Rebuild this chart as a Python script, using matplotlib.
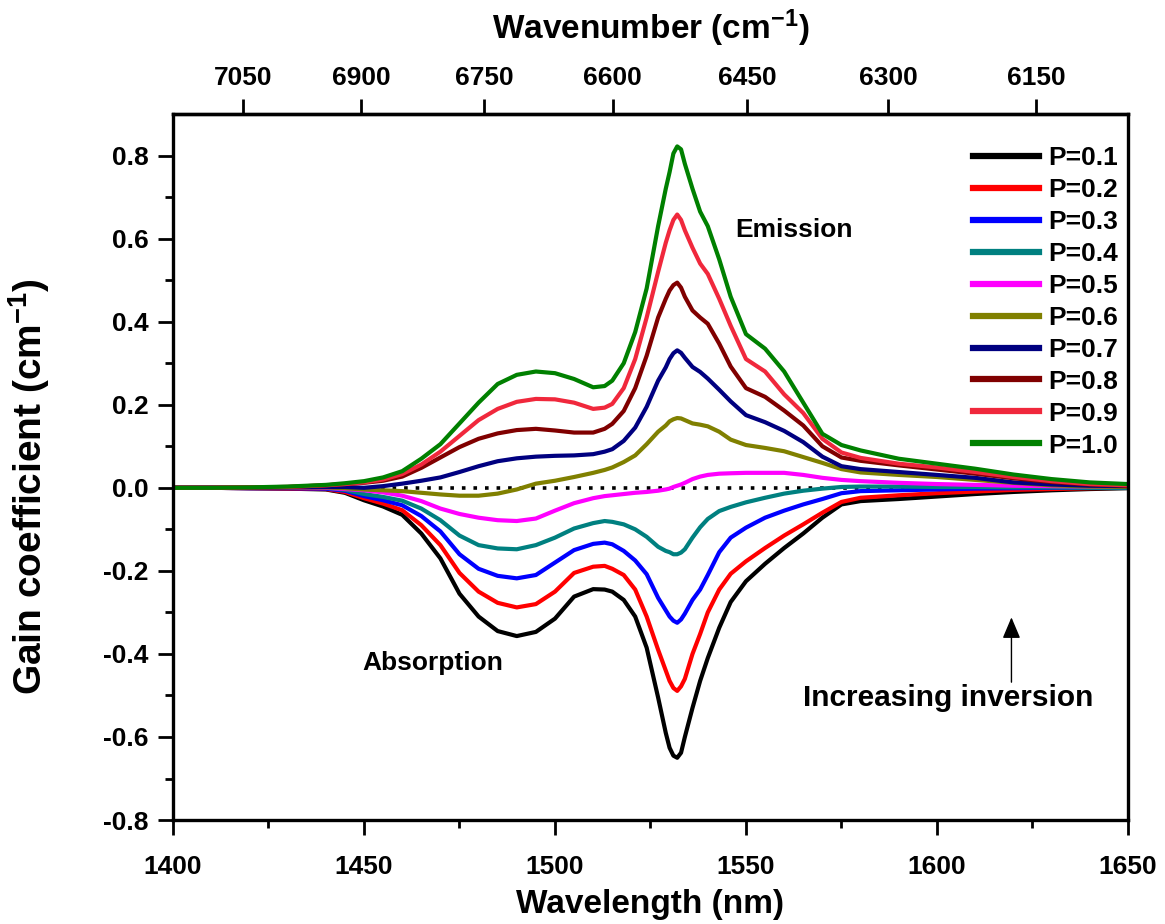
import matplotlib
matplotlib.use("Agg")
import matplotlib.pyplot as plt
from matplotlib.ticker import MultipleLocator, FixedLocator

plt.rcParams['font.family'] = ['Liberation Sans', 'DejaVu Sans']
plt.rcParams['font.weight'] = 'bold'
plt.rcParams['mathtext.fontset'] = 'custom'
plt.rcParams['mathtext.rm'] = 'Liberation Sans:bold'
plt.rcParams['mathtext.bf'] = 'Liberation Sans:bold'
plt.rcParams['mathtext.it'] = 'Liberation Sans:bold'
plt.rcParams['mathtext.default'] = 'bf'

# ---------------- data ----------------
wavelength = [1400, 1410, 1420, 1430, 1440, 1445, 1450, 1455, 1460, 1465,
              1470, 1475, 1480, 1485, 1490, 1495, 1500, 1505, 1510, 1513,
              1515, 1518, 1521, 1524, 1527, 1529, 1530, 1531, 1532, 1533,
              1534, 1536, 1538, 1540, 1543, 1546, 1550, 1555, 1560, 1565,
              1570, 1575, 1580, 1590, 1600, 1610, 1620, 1630, 1640, 1650]

p01 = [0, 0, -0.001, -0.002, -0.004, -0.012, -0.03, -0.045, -0.065, -0.11,
       -0.17, -0.255, -0.31, -0.345, -0.357, -0.347, -0.315, -0.262, -0.244, -0.245,
       -0.25, -0.27, -0.31, -0.385, -0.505, -0.59, -0.626, -0.645, -0.65, -0.638,
       -0.6, -0.53, -0.465, -0.41, -0.337, -0.275, -0.225, -0.183, -0.145, -0.11,
       -0.072, -0.04, -0.032, -0.027, -0.021, -0.015, -0.01, -0.006, -0.003, -0.001]
p02 = [0, 0, -0.001, -0.002, -0.003, -0.01, -0.025, -0.038, -0.054, -0.09,
       -0.138, -0.205, -0.25, -0.277, -0.288, -0.28, -0.25, -0.205, -0.19, -0.188,
       -0.195, -0.21, -0.245, -0.31, -0.39, -0.44, -0.465, -0.482, -0.489, -0.478,
       -0.46, -0.4, -0.352, -0.3, -0.245, -0.207, -0.177, -0.145, -0.115, -0.088,
       -0.06, -0.034, -0.024, -0.018, -0.013, -0.009, -0.005, -0.003, -0.001, 0.0]
p03 = [0, 0, -0.001, -0.001, -0.002, -0.007, -0.02, -0.03, -0.042, -0.068,
       -0.105, -0.16, -0.195, -0.212, -0.218, -0.21, -0.18, -0.15, -0.135, -0.132,
       -0.136, -0.152, -0.175, -0.208, -0.265, -0.295, -0.31, -0.32, -0.325, -0.317,
       -0.303, -0.27, -0.245, -0.21, -0.155, -0.12, -0.096, -0.072, -0.055, -0.04,
       -0.027, -0.013, -0.008, -0.006, -0.004, -0.002, -0.001, 0.0, 0.0, 0.0]
p04 = [0, 0, 0, 0, 0, -0.005, -0.015, -0.022, -0.031, -0.05,
       -0.078, -0.115, -0.138, -0.146, -0.148, -0.138, -0.12, -0.098, -0.085, -0.08,
       -0.082, -0.088, -0.1, -0.118, -0.142, -0.152, -0.155, -0.16, -0.16, -0.156,
       -0.148, -0.12, -0.095, -0.075, -0.056, -0.046, -0.035, -0.024, -0.014, -0.007,
       -0.002, 0.002, 0.003, 0.003, 0.002, 0.002, 0.001, 0.001, 0.0, 0.0]
p05 = [0, 0, 0, 0, 0, -0.003, -0.006, -0.011, -0.019, -0.032,
       -0.05, -0.063, -0.072, -0.078, -0.08, -0.074, -0.055, -0.037, -0.025, -0.02,
       -0.018, -0.015, -0.012, -0.01, -0.007, -0.004, -0.002, 0.002, 0.005, 0.008,
       0.012, 0.021, 0.027, 0.031, 0.034, 0.035, 0.036, 0.036, 0.036, 0.031,
       0.024, 0.019, 0.016, 0.012, 0.009, 0.007, 0.005, 0.004, 0.003, 0.002]
p06 = [0, 0, 0, 0.001, 0.001, -0.001, -0.004, -0.006, -0.008, -0.012,
       -0.016, -0.019, -0.019, -0.014, -0.004, 0.01, 0.017, 0.026, 0.036, 0.043,
       0.049, 0.062, 0.078, 0.105, 0.135, 0.15, 0.16, 0.165, 0.168, 0.167,
       0.163, 0.155, 0.152, 0.148, 0.135, 0.116, 0.103, 0.096, 0.088, 0.074,
       0.06, 0.045, 0.037, 0.031, 0.026, 0.019, 0.012, 0.006, 0.003, 0.002]
p07 = [0, 0, 0, 0.001, 0.002, 0.002, 0.0, 0.004, 0.01, 0.017,
       0.025, 0.038, 0.052, 0.064, 0.071, 0.075, 0.077, 0.078, 0.081, 0.087,
       0.093, 0.113, 0.145, 0.195, 0.258, 0.29, 0.31, 0.324, 0.331, 0.325,
       0.313, 0.291, 0.279, 0.263, 0.236, 0.208, 0.175, 0.158, 0.137, 0.11,
       0.075, 0.052, 0.045, 0.038, 0.031, 0.024, 0.013, 0.008, 0.005, 0.004]
p08 = [0, 0, 0.001, 0.002, 0.006, 0.009, 0.012, 0.017, 0.027, 0.048,
       0.073, 0.098, 0.118, 0.131, 0.139, 0.142, 0.138, 0.133, 0.133, 0.142,
       0.154, 0.185, 0.24, 0.318, 0.41, 0.455, 0.475, 0.488, 0.494, 0.482,
       0.46, 0.427, 0.41, 0.395, 0.347, 0.292, 0.24, 0.219, 0.186, 0.15,
       0.1, 0.073, 0.065, 0.054, 0.044, 0.034, 0.023, 0.014, 0.008, 0.005]
p09 = [0, 0, 0.001, 0.002, 0.006, 0.009, 0.013, 0.02, 0.033, 0.056,
       0.087, 0.125, 0.163, 0.19, 0.207, 0.214, 0.213, 0.205, 0.19, 0.193,
       0.202, 0.24, 0.31, 0.41, 0.52, 0.59, 0.62, 0.645, 0.658, 0.645,
       0.62, 0.578, 0.54, 0.515, 0.455, 0.39, 0.31, 0.28, 0.225, 0.18,
       0.118, 0.085, 0.072, 0.058, 0.049, 0.038, 0.026, 0.016, 0.009, 0.006]
p10 = [0, 0, 0.001, 0.003, 0.007, 0.011, 0.016, 0.025, 0.04, 0.07,
       0.105, 0.155, 0.205, 0.25, 0.272, 0.28, 0.276, 0.262, 0.242, 0.245,
       0.258, 0.3, 0.375, 0.48, 0.63, 0.72, 0.76, 0.805, 0.822, 0.815,
       0.78, 0.72, 0.665, 0.63, 0.55, 0.46, 0.37, 0.335, 0.28, 0.205,
       0.13, 0.103, 0.09, 0.07, 0.058, 0.046, 0.032, 0.021, 0.013, 0.009]

series = [p01, p02, p03, p04, p05, p06, p07, p08, p09, p10]
labels = ["P=0.1", "P=0.2", "P=0.3", "P=0.4", "P=0.5",
          "P=0.6", "P=0.7", "P=0.8", "P=0.9", "P=1.0"]
colors = ["#000000", "#FF0000", "#0000FF", "#008080", "#FF00FF",
          "#808000", "#000080", "#800000", "#F0283C", "#008000"]

top_ticks = [7050, 6900, 6750, 6600, 6450, 6300, 6150]

# ---------------- figure ----------------
fig = plt.figure(figsize=(11.65, 9.24), dpi=100)
ax = fig.add_axes([0.1485, 0.1125, 0.8197, 0.7641])

ax.plot([1400, 1650], [0, 0], color='black', linestyle=(0, (1, 2.2)),
        linewidth=2.6, zorder=1)
for y, lab, c in zip(series, labels, colors):
    ax.plot(wavelength, y, color=c, linewidth=3.0, label=lab,
            solid_joinstyle='round', zorder=2)

ax.set_xlim(1400, 1650)
ax.set_ylim(-0.8, 0.9)
ax.xaxis.set_major_locator(MultipleLocator(50))
ax.xaxis.set_minor_locator(MultipleLocator(25))
ax.yaxis.set_major_locator(FixedLocator([-0.8, -0.6, -0.4, -0.2, 0.0, 0.2, 0.4, 0.6, 0.8]))
ax.yaxis.set_minor_locator(FixedLocator([-0.7, -0.5, -0.3, -0.1, 0.1, 0.3, 0.5, 0.7]))
ax.yaxis.set_major_formatter(plt.FuncFormatter(lambda v, p: f"{v:.1f}"))

for s in ax.spines.values():
    s.set_linewidth(2.4)

ax.tick_params(axis='both', which='major', direction='out', length=10.5,
               width=2.0, labelsize=19)
ax.tick_params(axis='both', which='minor', direction='out', length=6,
               width=2.0)
ax.tick_params(axis='x', which='major', pad=15)
ax.tick_params(axis='y', which='major', pad=7)
ax.tick_params(top=False, right=False, which='both')

ax.set_xlabel("Wavelength (nm)", fontsize=24, fontweight='bold', labelpad=7)
ax.set_ylabel(r"Gain coefficient (cm$^{-1}$)", fontsize=28, fontweight='bold')
ax.yaxis.set_label_coords(-0.127, 0.472)

# top wavenumber axis
sec = ax.secondary_xaxis('top', functions=(lambda x: 1e7 / x, lambda x: 1e7 / x))
sec.xaxis.set_major_locator(FixedLocator(top_ticks))
sec.xaxis.set_minor_locator(FixedLocator([]))
sec.tick_params(axis='x', which='major', direction='out', length=10.5,
                width=2.0, labelsize=19, pad=7)
sec.spines['top'].set_linewidth(2.4)
sec.set_xlabel(r"Wavenumber (cm$^{-1}$)", fontsize=24, fontweight='bold',
               labelpad=19)

# legend
leg = ax.legend(loc='upper right', frameon=False, fontsize=19,
                handlelength=2.5, handletextpad=0.35, labelspacing=0.3,
                borderaxespad=0.1, bbox_to_anchor=(1.004, 0.973))
for line in leg.get_lines():
    line.set_linewidth(4.5)

# annotations
ax.text(1562.5, 0.62, "Emission", fontsize=19, fontweight='bold',
        ha='center', va='center')
ax.text(1468, -0.422, "Absorption", fontsize=19, fontweight='bold',
        ha='center', va='center')
ax.text(1603, -0.506, "Increasing inversion", fontsize=21.5, fontweight='bold',
        ha='center', va='center')
ax.annotate("", xy=(1619.5, -0.312), xytext=(1619.5, -0.468),
            arrowprops=dict(arrowstyle='-|>,head_length=1.3,head_width=0.55',
                            color='black', lw=1.0, shrinkA=0, shrinkB=0))

fig.savefig("out.png", dpi=100, facecolor='white')
